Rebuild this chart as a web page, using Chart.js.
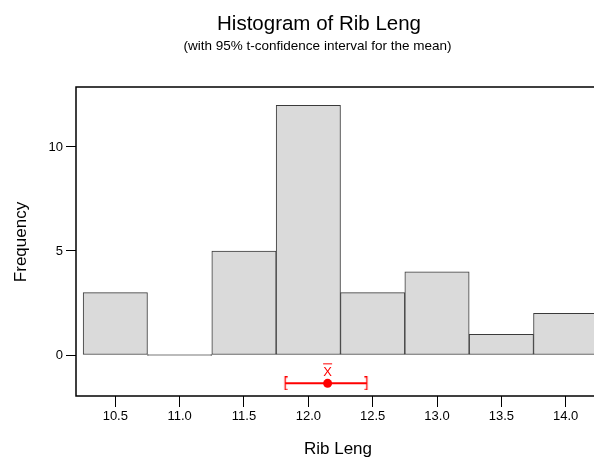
<!DOCTYPE html>
<html>
<head>
<meta charset="utf-8">
<script src="https://cdn.jsdelivr.net/npm/chart.js@4.4.1/dist/chart.umd.min.js"></script>
<style>
html,body{margin:0;padding:0;background:#fff;overflow:hidden;}
#wrap{width:594px;height:458px;position:relative;}
</style>
</head>
<body>
<div id="wrap"><canvas id="c" width="594" height="458"></canvas></div>
<script>
// ---- data ----
const titleText = "Histogram of Rib Leng";
const subtitleText = "(with 95% t-confidence interval for the mean)";
const xTitle = "Rib Leng";
const yTitle = "Frequency";
const binCenters = [10.5, 11.0, 11.5, 12.0, 12.5, 13.0, 13.5, 14.0];
const frequencies = [3, 0, 5, 12, 3, 4, 1, 2];
const xTickValues = [10.5, 11.0, 11.5, 12.0, 12.5, 13.0, 13.5, 14.0];
const yTickValues = [0, 5, 10];
const meanValue = 12.15;
const ciLow = 11.82;
const ciHigh = 12.455;
const ciLevel = -1.36;
const xRange = [10.1946, 14.22];
const yRange = [-1.968, 12.88];

const FONT = "'Liberation Sans', Arial, sans-serif";
const RED = '#ff0000';

function bracket(left) {
  const c = document.createElement('canvas');
  c.width = 7; c.height = 14;
  const g = c.getContext('2d');
  g.strokeStyle = RED; g.lineWidth = 1.3;
  g.beginPath();
  if (left) {
    g.moveTo(6, 0.7); g.lineTo(3.5, 0.7); g.lineTo(3.5, 13.3); g.lineTo(6, 13.3);
  } else {
    g.moveTo(1, 0.7); g.lineTo(3.5, 0.7); g.lineTo(3.5, 13.3); g.lineTo(1, 13.3);
  }
  g.stroke();
  return c;
}

const textPlugin = {
  id: 'texts',
  afterDatasetsDraw(chart) {
    const ctx = chart.ctx;
    const a = chart.chartArea;
    ctx.save();
    // frame
    ctx.strokeStyle = '#000';
    ctx.lineWidth = 1.5;
    ctx.strokeRect(a.left, a.top, a.right - a.left + 5, a.bottom - a.top);
    // X-bar label
    const xs = chart.scales.x, ys = chart.scales.y;
    const mx = xs.getPixelForValue(meanValue);
    const my = ys.getPixelForValue(ciLevel);
    ctx.fillStyle = RED;
    ctx.font = '13px ' + FONT;
    ctx.textAlign = 'center';
    ctx.textBaseline = 'alphabetic';
    ctx.fillText('X', mx, my - 7.5);
    ctx.strokeStyle = RED; ctx.lineWidth = 1;
    ctx.beginPath();
    ctx.moveTo(mx - 4.5, my - 19.5); ctx.lineTo(mx + 4.5, my - 19.5);
    ctx.stroke();
    ctx.restore();
  },
  afterDraw(chart) {
    const ctx = chart.ctx;
    ctx.save();
    ctx.fillStyle = '#000';
    ctx.textAlign = 'center';
    ctx.textBaseline = 'alphabetic';
    ctx.font = '20.5px ' + FONT;
    ctx.fillText(titleText, 319, 30);
    ctx.font = '13.5px ' + FONT;
    ctx.fillText(subtitleText, 317.5, 50);
    ctx.font = '17px ' + FONT;
    ctx.fillText(xTitle, 338, 454);
    ctx.translate(26, 242);
    ctx.rotate(-Math.PI / 2);
    ctx.fillText(yTitle, 0, 0);
    ctx.restore();
  }
};

new Chart(document.getElementById('c'), {
  type: 'bar',
  data: {
    datasets: [
      {
        type: 'bar',
        data: binCenters.map((x, i) => ({x: x, y: frequencies[i]})),
        backgroundColor: '#dadada',
        borderColor: '#3a3a3a',
        borderWidth: 1,
        borderSkipped: false,
        barPercentage: 1.0,
        categoryPercentage: 1.0,
        minBarLength: 1,
        order: 2
      },
      {
        type: 'line',
        data: [{x: ciLow, y: ciLevel}, {x: ciHigh, y: ciLevel}],
        borderColor: RED,
        borderWidth: 2,
        pointStyle: [bracket(true), bracket(false)],
        pointRadius: 6,
        showLine: true,
        fill: false,
        order: 1
      },
      {
        type: 'scatter',
        data: [{x: meanValue, y: ciLevel}],
        backgroundColor: RED,
        borderColor: RED,
        pointRadius: 4.5,
        borderWidth: 0,
        order: 0
      }
    ]
  },
  options: {
    responsive: false,
    animation: false,
    events: [],
    layout: {autoPadding: false, padding: {top: 87, right: 0, left: 0, bottom: 0}},
    plugins: {legend: {display: false}, tooltip: {enabled: false}, title: {display: false}},
    scales: {
      x: {
        type: 'linear',
        offset: false,
        min: xRange[0], max: xRange[1],
        afterBuildTicks: s => { s.ticks = xTickValues.map(v => ({value: v})); },
        afterFit: s => { s.height = 62; s.paddingRight = 0; s.paddingLeft = 0; },
        border: {display: false},
        grid: {display: true, offset: false, drawOnChartArea: false, drawTicks: true, tickLength: 11, color: '#000', lineWidth: 1},
        ticks: {
          padding: 2,
          color: '#000',
          font: {family: FONT, size: 13},
          maxRotation: 0,
          autoSkip: false,
          callback: v => v.toFixed(1)
        }
      },
      y: {
        type: 'linear',
        min: yRange[0], max: yRange[1],
        afterBuildTicks: s => { s.ticks = yTickValues.map(v => ({value: v})); },
        afterFit: s => { s.width = 76; },
        border: {display: false},
        grid: {display: true, drawOnChartArea: false, drawTicks: true, tickLength: 10, color: '#000', lineWidth: 1},
        ticks: {
          padding: 3,
          color: '#000',
          font: {family: FONT, size: 13},
          autoSkip: false,
          callback: v => String(v)
        }
      }
    }
  },
  plugins: [textPlugin]
});
</script>
</body>
</html>
